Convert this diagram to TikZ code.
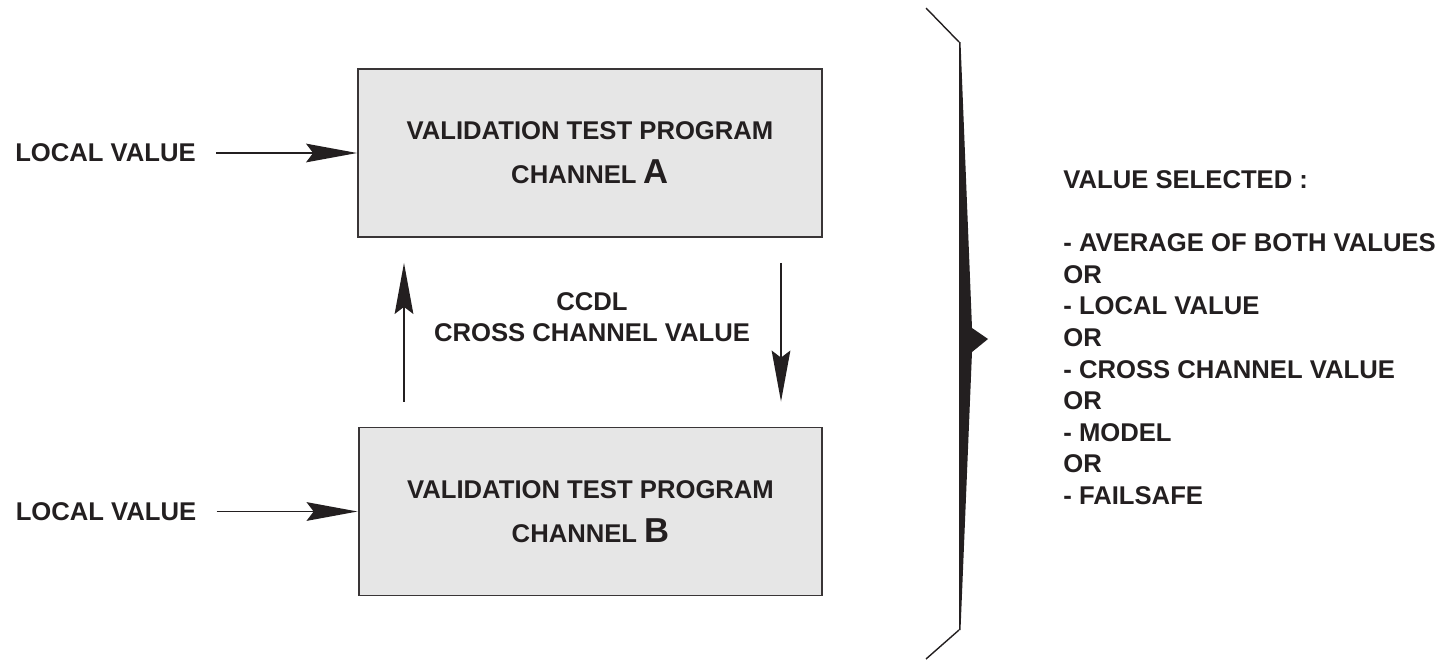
\documentclass[tikz,border=0pt]{standalone}
\usepackage{fontspec}
\setmainfont{Liberation Sans}
\usetikzlibrary{arrows.meta,positioning}

\definecolor{ink}{HTML}{231F20}
\definecolor{boxgray}{HTML}{E6E6E6}

\tikzset{
  lbl/.style={font=\fontsize{14.6}{18}\selectfont\bfseries, text=ink, inner sep=0pt},
  progbox/.style={draw=ink!90, line width=1.1pt, fill=boxgray,
    minimum width=9.28cm, minimum height=3.36cm, align=center,
    font=\fontsize{14.6}{24.9}\selectfont\bfseries, text=ink},
  flow/.style={draw=ink, line width=1.1pt, -{Stealth[length=29pt,width=10.6pt,inset=4pt]}}
}
\newcommand{\chanletter}[1]{{\fontsize{19.7}{24.9}\selectfont #1}}

\begin{document}
\begin{tikzpicture}[x=0.02cm,y=-0.02cm]
\useasboundingbox (0,0) rectangle (1453,660);

% the two channels
\node[progbox] (chA) at (590,153) {VALIDATION TEST PROGRAM\\CHANNEL \chanletter{A}};
\node[progbox] (chB) at (590.5,511.5) {VALIDATION TEST PROGRAM\\CHANNEL \chanletter{B}};

% local inputs
\node[lbl, left=3.22cm of chA.west] (locA) {LOCAL VALUE};
\node[lbl, left=3.22cm of chB.west] (locB) {LOCAL VALUE};
\draw[flow] ([xshift=0.4cm]locA.east) -- (chA.west);
\draw[flow] ([xshift=0.4cm]locB.east) -- (chB.west);

% cross channel link
\coordinate (upx) at (404,0);
\coordinate (dnx) at (781,0);
\draw[flow, shorten <=0.5cm, shorten >=0.5cm] (chB.north -| upx) -- (chA.south -| upx);
\draw[flow, shorten <=0.5cm, shorten >=0.5cm] (chA.south -| dnx) -- (chB.north -| dnx);
\node[lbl, align=center, font=\fontsize{14.6}{17.6}\selectfont\bfseries] (ccdl) at (592,317)
  {CCDL\\CROSS CHANNEL VALUE};

% brace
\draw[ink, line width=0.8pt] (926,8) -- (959,42);
\draw[ink, line width=0.8pt] (959,630) -- (926,659);
\fill[ink] (959,42) -- (960.5,42) -- (972,328) -- (988,339) -- (972,352)
  -- (960.5,630) -- (959,630) -- cycle;

% selection list
\node[lbl, anchor=north west, align=left] (sel) at (1063,170)
  {VALUE SELECTED :\\[18pt]
   - AVERAGE OF BOTH VALUES\\
   OR\\
   - LOCAL VALUE\\
   OR\\
   - CROSS CHANNEL VALUE\\
   OR\\
   - MODEL\\
   OR\\
   - FAILSAFE};

\end{tikzpicture}
\end{document}
